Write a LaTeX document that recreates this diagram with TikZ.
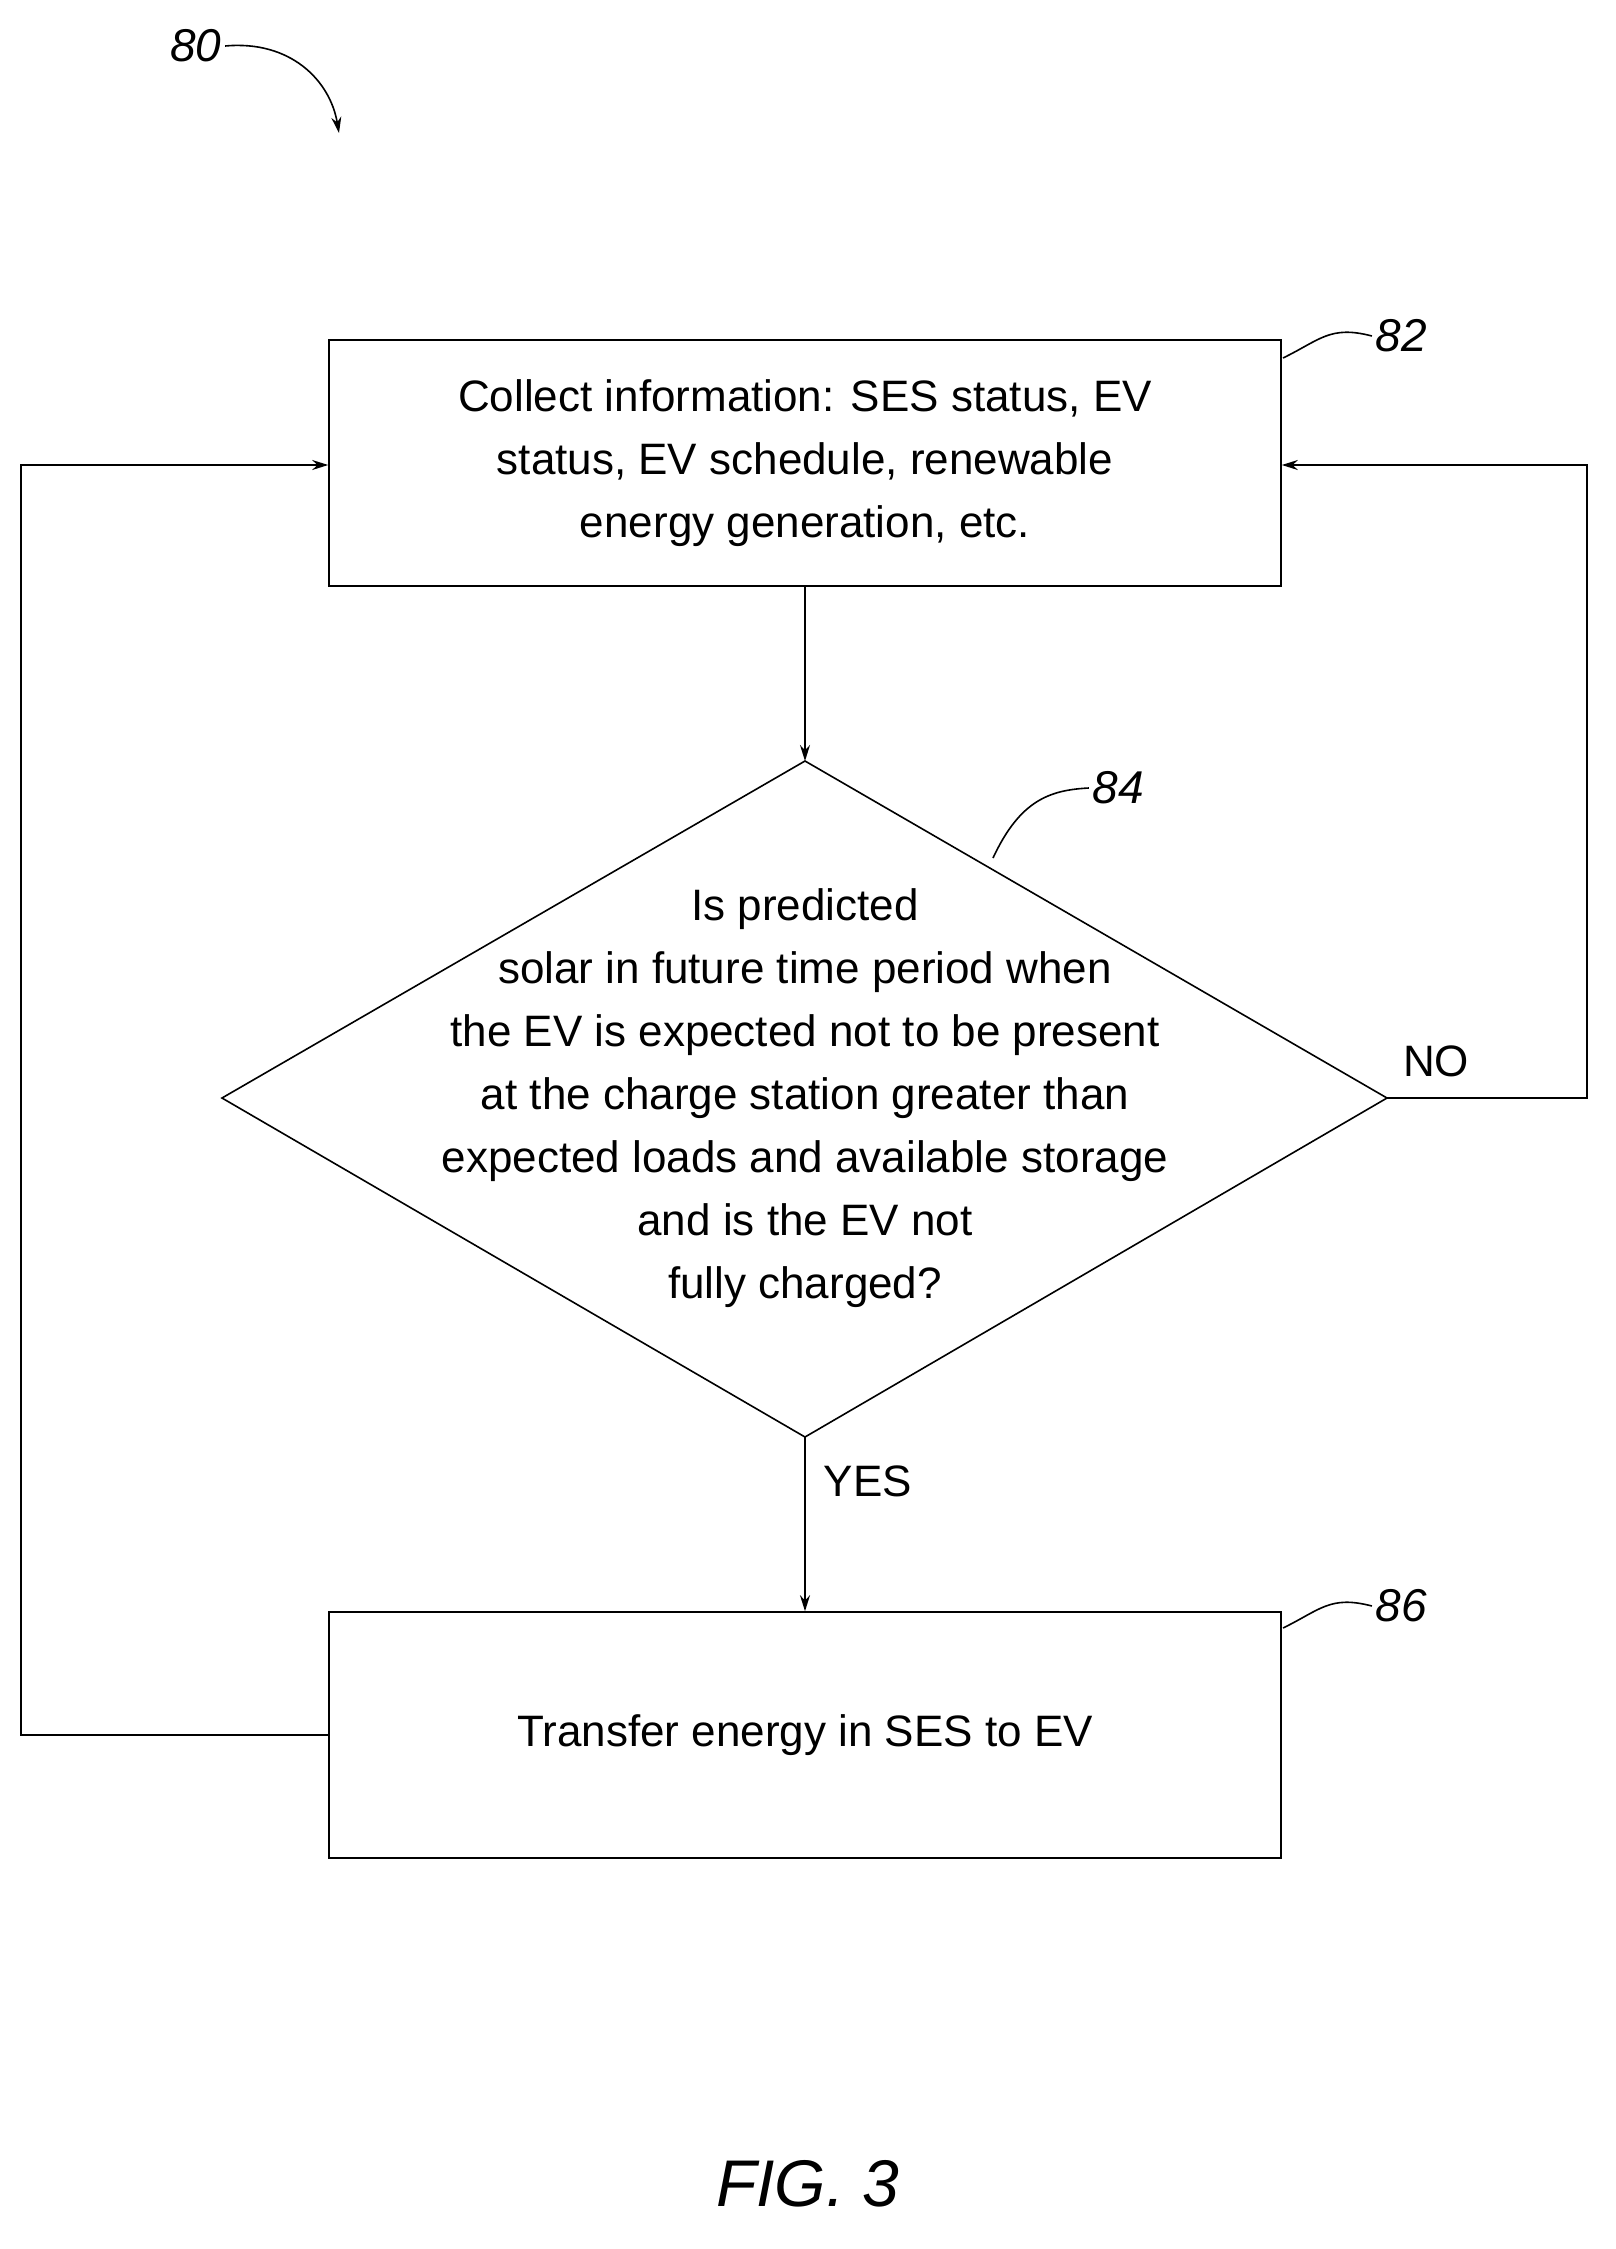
\documentclass[tikz,border=0pt]{standalone}
\usepackage{fontspec}
\setmainfont{Liberation Sans}
\usetikzlibrary{arrows.meta,shapes.geometric}
\begin{document}
\begin{tikzpicture}[x=1pt,y=-1pt,
  ln/.style={line width=1.6pt},
  arr/.style={ln,-{Stealth[length=16pt,width=10pt]}},
  txt/.style={font=\fontsize{44}{63}\selectfont,align=center},
  lbl/.style={font=\fontsize{46}{50}\selectfont\itshape}]
\useasboundingbox (0,0) rectangle (1616,2249);
\node[ln,draw,minimum width=952pt,minimum height=246pt,txt] (b1) at (805,463)
 {Collect information: SES status, EV\\status, EV schedule, renewable\\energy generation, etc.};
\coordinate (dt) at (805,761);
\coordinate (dl) at (222,1098);
\coordinate (dr) at (1387,1098);
\coordinate (db) at (805,1437);
\draw[ln] (dt) -- (dr) -- (db) -- (dl) -- cycle;
\node[txt] (dtx) at (805,1098) {Is predicted\\solar in future time period when\\the EV is expected not to be present\\at the charge station greater than\\expected loads and available storage\\and is the EV not\\fully charged?};
\node[ln,draw,minimum width=952pt,minimum height=246pt,txt] (b2) at (805,1735) {Transfer energy in SES to EV};
\draw[arr] (b1.south) -- (dt);
\draw[arr] (db) -- (b2.north);
\coordinate (r1) at (1587,1098);
\coordinate (r2) at (1587,465);
\coordinate (l1) at (21,1735);
\coordinate (l2) at (21,465);
\draw[arr] (dr) -- (r1) -- (r2) -- (b1.east |- r2);
\draw[arr] (b2.west) -- (l1) -- (l2) -- (b1.west |- l2);
\node[txt] (no) at (1436,1061) {NO};
\node[txt] (yes) at (868,1481) {YES};
\node[lbl] (n82) at (1401,336) {82};
\node[lbl] (n84) at (1118,788) {84};
\node[lbl] (n86) at (1401,1606) {86};
\node[lbl] (n80) at (196,46) {80};
\node[font=\fontsize{66}{70}\selectfont\itshape] (fig) at (808,2184) {FIG. 3};
\draw[ln] (1283,358) .. controls (1320,340) and (1330,325) .. (n82.west);
\draw[ln] (1283,1628) .. controls (1320,1610) and (1330,1595) .. (n86.west);
\draw[ln] (993,858) .. controls (1020,800) and (1050,790) .. (n84.west);
\draw[arr] (n80.east) .. controls (290,40) and (330,80) .. (339,133);
\end{tikzpicture}
\end{document}
